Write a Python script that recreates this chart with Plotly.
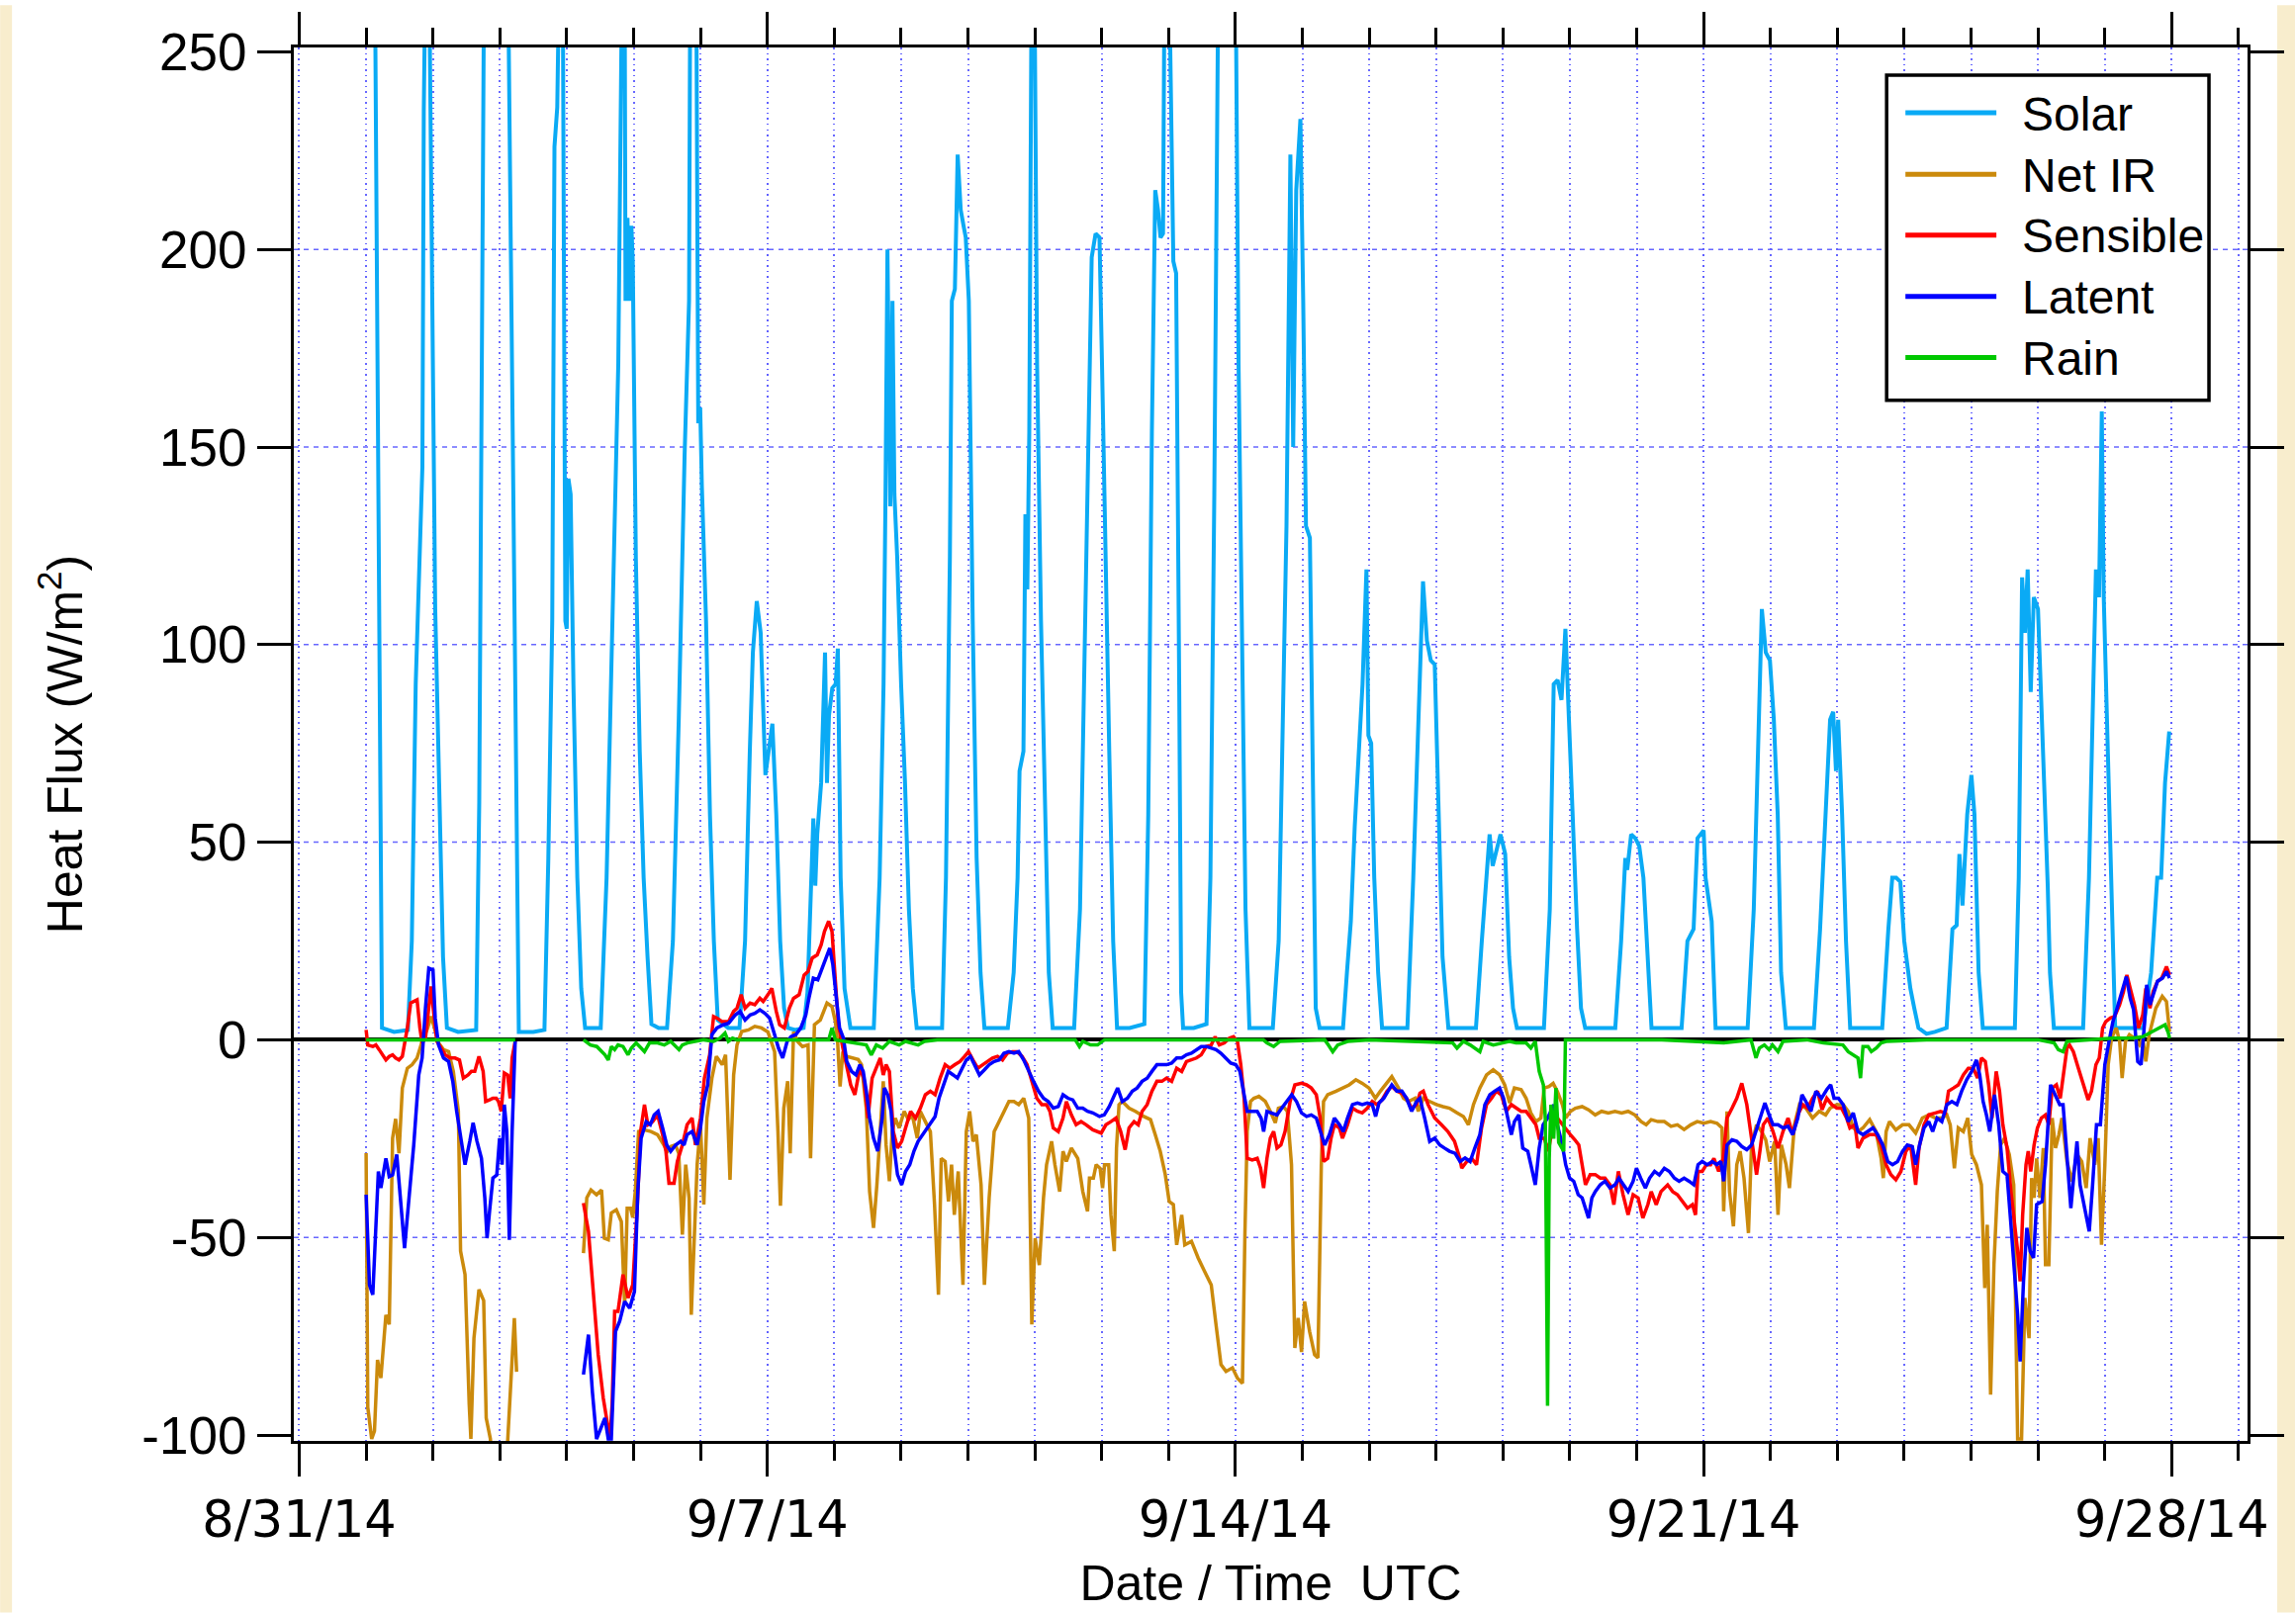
import pandas as pd
import plotly.graph_objects as go

START = pd.Timestamp("2014-09-01 00:00")

# ---------------- data (hours since 9/1/14 00:00 UTC, W/m2) ----------------
solar_hours = [0, 3.3, 5.7, 10, 15,
    16.4, 17.8, 19.2, 20.2, 20.7, 21.2, 22.7, 24.1, 24.8, 26.2, 27.6, 29, 33, 39.5,
    40.6, 41.6, 42.3, 46, 51, 54.8, 60, 64,
    65.4, 66.8, 67.6, 68.6, 69.2, 70.6, 71.5, 72.0, 72.6, 73.4, 74.4, 75.8, 77.2, 78.6, 82, 84.2,
    86.3, 88.4, 90.5, 91.8, 92.8, 93.1, 93.8, 94.5, 95.2, 95.7, 96.8, 98.2, 99.6, 101, 102.4, 105, 108,
    110.1, 112.2, 114.3, 115.9, 116.3, 118.5, 119.2, 119.9, 120.5, 122, 123.4, 124.8, 126.2, 130, 134,
    136, 137.7, 138.8, 140.2, 141.6, 143.3, 144.4, 145.8, 147.2, 148.6, 150, 151.4, 154, 157,
    158.4, 159.8, 160.5, 161.2, 161.9, 163.3, 164.7, 165.4, 166.1, 167.3, 168.5, 169.3, 170.3, 171.7, 173.8, 178, 182.2,
    184.3, 185.7, 186.4, 187.1, 188.1, 188.9, 189.6, 190.6, 192, 193.4, 194.8, 196.2, 197.6, 202, 206.7,
    208.1, 209.5, 210.2, 211.3, 212.3, 213.4, 214.4, 215.2, 216.3, 217.7, 219.1, 220.5, 221.9, 226, 230.3,
    232.4, 233.8, 234.5, 235.9, 236.6, 237.3, 238, 238.8, 239.9, 240.8, 242.2, 243.6, 245, 246.4, 250, 254.1,
    256.2, 257.6, 259, 260.4, 261.8, 263.2, 264.1, 265.3, 266.7, 268.1, 269.5, 274, 279.3,
    280.7, 282, 283.2, 284.2, 285.1, 286, 286.5, 288.3, 289.7, 290.7, 291.8, 292.5, 293.2, 297, 301.6,
    303, 304.4, 305.8, 309, 312.1, 313.1, 314.2, 315.6, 317, 321, 325.4,
    327.5, 328.9, 330.3, 331.7, 332.7, 333.8, 335.3, 336.3, 337.3, 338.7, 339.4, 340.1, 340.8, 342.2, 346, 350.6,
    352, 353.4, 354.8, 356.2, 357.6, 359, 359.7, 360.7, 361.8, 363.2, 364.6, 369, 373.7,
    375.8, 377.9, 379.3, 380.7, 382.1, 383.5, 384.9, 386.3, 388.4, 393, 398.3,
    400.4, 402.1, 403.2, 404.3, 406, 407.1, 408.8, 410.2, 411.6, 413, 418, 422.7,
    424.8, 426.2, 427.6, 429, 430.4, 432, 433.2, 434.6, 436, 437.5, 442, 448.3,
    450.4, 451.9, 452.6, 454, 455.5, 456.9, 458.4, 459.8, 461.3, 466, 472.1,
    474.2, 476.4, 477.8, 480, 480.7, 482.9, 484.3, 490, 495.8,
    498, 499.4, 500.9, 502.3, 503.8, 505.2, 506.6, 507.8, 509.5, 514, 519.6,
    521.8, 523.9, 525.4, 526.5, 527.5, 528.3, 529.7, 531.1, 532.6, 538, 544.1,
    546.3, 547.7, 549.1, 550.6, 552, 554.2, 555.6, 557.1, 560, 563, 567.2,
    569.3, 570.8, 571.8, 572.9, 574.6, 576.1, 577.2, 578.7, 580.2, 586, 591.7,
    593.1, 594.3, 595.3, 596.3, 597.4, 598.5, 600, 601, 602.5, 603.5, 604.3, 605.7, 610, 616.2,
    618.3, 619.8, 620.8, 621.9, 622.9, 623.6, 624.4, 626.2, 627.7, 632, 637.8,
    640.6, 642.8, 644.2, 645.6, 647.1]
solar_wm2 = [330, 255, 3, 2, 2.5,
    25, 90, 122, 145, 235, 265, 265, 171, 109, 65, 21, 3, 2, 2.5,
    60, 180, 265, 290, 265, 2, 2, 2.5,
    46, 106, 226, 236, 265, 265, 106, 104, 142, 138, 90, 41, 13, 3, 3, 3,
    41, 106, 171, 265, 265, 187, 208, 187, 206, 197, 122, 73, 41, 21, 4, 3, 3,
    25, 81, 148, 187, 265, 265, 156, 160, 140, 106, 57, 25, 5, 3, 3,
    25, 73, 98, 111, 103, 67, 73, 80, 57, 25, 8, 3, 2.5, 3,
    12, 41, 56, 39, 52, 65, 98, 65, 82, 89, 90, 99, 41, 13, 3, 3, 3,
    41, 90, 138, 200, 135, 187, 138, 122, 90, 65, 33, 13, 3, 3, 3,
    41, 122, 187, 190, 224, 210, 206, 203, 187, 106, 46, 17, 3, 3, 3,
    17, 41, 68, 73, 133, 114, 154, 265, 265, 171, 106, 57, 17, 3, 3, 3,
    33, 90, 154, 198, 204, 203, 171, 122, 73, 25, 3, 3, 4,
    57, 154, 215, 210, 203, 204, 265, 265, 197, 194, 90, 12, 3, 3, 4,
    41, 138, 265, 290, 265, 171, 106, 33, 3, 3, 3,
    25, 73, 130, 224, 150, 215, 233, 187, 130, 127, 90, 41, 8, 3, 3, 3,
    17, 30, 54, 73, 90, 119, 77, 75, 41, 17, 3, 3, 3,
    41, 90, 116, 101, 96, 95, 57, 21, 3, 3, 3,
    25, 43, 52, 44, 49, 52, 47, 21, 8, 3, 3, 3,
    33, 90, 91, 86, 104, 73, 49, 28, 8, 3, 3, 3,
    25, 46, 43, 52, 51, 49, 41, 21, 3, 3, 3,
    25, 28, 51, 53, 41, 30, 3, 3, 3,
    33, 73, 109, 98, 96, 81, 57, 17, 3, 3, 3,
    28, 57, 81, 83, 68, 81, 57, 25, 3, 3, 3,
    28, 41, 41, 40, 25, 13, 8, 3, 1.5, 2, 3,
    28, 29, 47, 34, 57, 67, 57, 17, 3, 3, 3,
    41, 117, 103, 119, 88, 112, 109, 90, 62, 39, 17, 3, 3, 3,
    41, 90, 119, 112, 159, 112, 90, 41, 3, 3, 3,
    17, 41, 41, 65, 78]

netir_hours = [0, 0.6, 2.0, 3.0, 4.1, 5.3, 7.1, 8.3, 9.5, 10.6, 11.8, 13, 14.8, 16.5, 18.3, 20.1, 22.1, 23.3,
    24.2, 26, 27.8, 29.6, 31.3, 33.1, 33.9, 35.5, 37, 37.6, 38.7, 40.5, 42.2, 43.1, 44.6, 46.5, 49, 50.9, 53.2, 54,
    60,
    78, 79.2, 80.7, 82.7, 84.5, 85.5, 86.9, 88, 89.8, 91.6, 92.8, 93.7, 94.9, 95.7, 96.6, 97.8, 99.9, 102.2,
    104.6, 107, 108.2, 109.4, 111, 112.2, 113.5, 114.7, 115.9, 116.7, 117.7, 118.8, 120, 121.2, 122.3, 124.1,
    125.7, 127.8, 129, 130.6, 131.9, 133.1, 134.8, 137.2, 139.5, 141.9, 144.2, 146.6, 147.8, 148.7, 149.9,
    151.3, 152.2, 153.4, 154.8, 156.6, 158.6, 159.5, 160.9, 163, 165.4, 167.2, 168.4, 169.2, 170.1, 171.1,
    172.5, 174.8, 176.6, 177.8, 179.5, 180.7, 182.1, 183.3, 184.8, 185.6, 186.6, 187.8, 188.8, 189.9, 191.3,
    193.1, 194.6, 196, 197.8, 198.9, 200.7, 202.5, 204, 205.4, 206.4, 207.8, 209, 210.1, 211.1, 212.5, 214.2,
    215.4, 216.6, 217.8, 219, 220.7, 221.9, 223.6, 225.4, 227.2, 228.9, 230.7, 232.5, 234.2, 236, 237.8,
    238.9, 240.1, 241.6, 243.1, 244.2, 246, 247.2, 248.9, 250.1, 251.3, 253.1, 255.4, 257.2, 258.9, 259.6,
    261, 262, 263.4, 264.3, 265, 266.5, 267.3, 268.5, 269.3, 270.2, 271.4, 273.8, 276.1, 279.1, 281.5, 283.2,
    285, 286.8, 288.2, 289.7, 290.9, 292.7, 293.8, 296.2, 298.6, 300.9, 303.3, 305, 306.8, 308.6, 310.9,
    312.7, 314.5, 315.4, 316.2, 317.4, 318.6, 320.4, 322.7, 324.5, 326.3, 327.4, 329.2, 330.6, 332.1, 333.3,
    334.5, 335.7, 336.8, 338.6, 340.4, 341.6, 342.8, 343.6, 345.1, 348.1, 350.4, 352.8, 355.2, 357.5, 359.9,
    362.2, 364, 365.8, 368.1, 370.5, 372.3, 374.1, 376.4, 377.6, 379.4, 381.7, 384.1, 386.5, 388.8, 391.5,
    393.8, 395.6, 397.4, 399.7, 402.1, 404.5, 406.8, 408.6, 410.4, 412.1, 414.5, 416.3, 418, 419.8, 421.6,
    422.8, 424.5, 426, 427.5, 429.3, 430.5, 432.2, 434, 436.4, 438.7, 441.1, 443.4, 445.8, 448.2, 450.6,
    452.9, 455.3, 457.6, 459.4, 461.2, 463.6, 465.9, 468.3, 470.6, 473, 475.4, 477.7, 480.1, 482.5, 484.8,
    486.6, 487.2, 488.4, 489.3, 490.7, 491.9, 493.1, 494.5, 496.1, 497.2, 499, 500.8, 502.3, 503.7, 505.5,
    506.7, 507.9, 509.6, 510.8, 512.6, 514.4, 516.7, 519.1, 521.5, 523.8, 525.4, 527.8, 530.1, 531.9, 533.7,
    535.4, 537.2, 539.6, 541.9, 543.7, 544.5, 545.5, 546.7, 549, 551.4, 553.7, 556.1, 558.5, 560.8, 563.2,
    565.5, 567.3, 568.5, 570, 571.4, 573.2, 574.8, 576.2, 577.9, 579.7, 580.9, 581.8, 583, 584.2, 585.4,
    586.6, 588, 589.7, 591.3, 592.7, 594.1, 595.3, 596.8, 597.7, 598.6, 599.5, 600.7, 601.9, 602.7, 603.9,
    605.1, 606.3, 607.5, 608.6, 610.4, 612.2, 614, 615.7, 617.3, 618.7, 620.4, 621.6, 622.8, 624, 625.2,
    626.4, 628.1, 629.3, 630.2, 631.4, 632.8, 634.6, 636.4, 637.6, 638.7, 639.9, 642.3, 644.6, 646.1, 647.2]
netir_wm2 = [-28.7, -93, -101, -99, -81, -85.6, -69.6, -72, -24.9, -20, -28.7, -12.2, -7.2, -6.3, -4.6, -0.4, 3, 5.9,
    3.8, -0.8, -2.5, -3, -8, -18, -53.5, -59.4, -92.3, -101, -75.5, -63.2, -66, -95.7, -101, -130, -125, -101, -70.4, -84,
    None,
    -54, -40, -38, -39.2, -38, -50.2, -50.6, -43.8, -43, -46, -67, -42.6, -42.6, -45, -38.4, -23.2, -22.8, -23.2,
    -24, -26.6, -28.2, -27, -26.6, -28.7, -49.3, -31.6, -40, -69.6, -50, -31.6, -21.5, -41.7, -19.8, -9.7,
    -4.2, -6.3, -3.8, -35.4, -8.9, -1.3, 2.1, 2.5, 3.4, 3, 2, -3, -23.2, -42, -17.3,
    -10.5, -28.7, 2, -0.4, -1.7, -1.3, -30, 3.8, 5, 9.3, 8.4, 4.6, -0.4, -11.8, -3,
    -4.2, -4.6, -5, -6.3, -17.3, -38.4, -47.6, -36.7, -21.5, -10.5, -26.6, -35.8, -23.2, -19.8, -22.3,
    -18.1, -20.2, -19, -24.9, -18.1, -20.7, -23.2, -41.7, -64.5, -30, -30.8, -40.9, -31.6, -44.3, -33.3, -62,
    -23.2, -18.1, -25.7, -24, -36.7, -62, -40, -23.2, -20.7, -18.1, -15.6, -15.6, -16.4, -14.8, -19.8,
    -72, -50.2, -57, -40, -31.6, -25.7, -31.6, -38.4, -28.2, -30.8, -27.4, -30, -38.4, -43.4, -35,
    -35, -31.6, -32.5, -37.5, -31.6, -31.6, -44.3, -53.5, -27.4, -16.4, -15.6, -17.3, -18.1, -19.4, -20.2, -24,
    -28.2, -34.1, -40.9, -41.7, -51.9, -44.3, -51.9, -51, -55.2, -58.6, -62, -72, -82.2, -83.9, -83,
    -85.6, -86.9, -48.5, -23.2, -15.6, -14.8, -14.3, -15.6, -18.1, -21, -17.3, -16.9, -18.1, -31.6, -78,
    -70.4, -79, -66.2, -73.8, -79.7, -80.5, -31.6, -15.6, -13.9, -13, -12.2, -11.4, -10.1, -11, -12.2,
    -14.8, -13, -11.4, -9.3, -12.2, -14.8, -15.6, -14.8, -18.1, -14.8, -15.6, -16.4, -16.9, -17.3, -18.5,
    -19.4, -21.5, -16.4, -12.2, -8.9, -7.6, -8.9, -11.4, -16, -12.2, -12.6, -14.8, -18.5, -20.7, -19.8,
    -12.2, -11.8, -11, -13, -16.4, -19.8, -18.1, -17.3, -16.9, -17.7, -19, -18.1, -18.5, -18.1, -18.5,
    -18.1, -19, -20.7, -21.5, -20.2, -20.7, -20.7, -21.9, -21.5, -22.7, -21.5, -20.7, -21.1, -20.7, -21.1,
    -22.3, -43.4, -18.1, -38.4, -47.2, -31.6, -28.2, -35, -48.9, -26.6, -21.5, -23.2, -25.3, -30.8, -25.7,
    -44.3, -26.6, -31.6, -37.5, -21.5, -16.4, -17.3, -19.8, -18.1, -19, -17.3, -16.4, -16.4, -18.1, -22.3,
    -23.2, -22.3, -20.2, -23.2, -30, -35, -23.2, -20.7, -22.8, -21.5, -21.5, -23.6, -19.8, -19, -19.8,
    -19.8, -19, -21.5, -32.5, -22.3, -23.2, -19.8, -29, -31.6, -36.7, -62.8, -46.8, -89.8, -56.9, -38.4,
    -26.6, -24.9, -29, -36.7, -101, -101, -65.3, -75.5, -35, -40, -30, -40, -27.4, -56.9, -56.9,
    -19.8, -27.4, -24, -19.8, -30.8, -35.8, -29, -30.8, -37.5, -24.9, -31.6, -24.9, -51.9, -31.6, -6.3,
    0.4, 3, -0.4, -9.7, -0.4, 1.3, 0.4, -1.3, 0.4, -5.5, 1.3, 8, 11, 9.7, 2]

sens_hours = [0, 0.6, 2.4, 3.5, 4.7, 5.9, 7.1, 8.3, 9.5, 10.6, 11.8, 13, 13.8, 14.8, 16, 17.1, 18.3, 19.3, 20.1,
    21.3, 22.5, 23.3, 24.2, 25.4, 26.6, 28.4, 30.1, 31.9, 33.5, 34.9, 36.6, 37.8, 39, 40.5, 42, 42.9, 44.3,
    45.5, 46.7, 47.5, 48.5, 49.6, 50.8, 51.7, 52.4, 53.5,
    60,
    78, 79.8, 81.6, 83.3, 85.1, 86.3, 87.5, 88.3, 89.2, 90.4, 92.2, 94, 95.7, 97.3, 98.5, 99.9, 101.1, 102.8,
    104.6, 106.4, 107.6, 108.7, 110.5, 111.7, 113.5, 115.2, 117, 118.2, 120, 121.4, 123.3, 124.7, 125.9, 127.7,
    130.1, 131.9, 133.1, 134.6, 136, 137.8, 139.5, 141.3, 142.5, 144.2, 145.6, 147.2, 148.4, 150.1, 151.9,
    153.4, 155.4, 157.2, 158.6, 160.1, 161.9, 163.3, 164.5, 166, 167.2, 168, 169.5, 171.1, 172.5, 173.9,
    175.4, 177.2, 178.6, 180.1, 181.6, 183.1, 184.5, 185.6, 186.6, 187.8, 189.2, 190.7, 192.2, 193.6, 195.4,
    197.2, 198.9, 200.7, 202.5, 204.2, 206, 207.8, 209.5, 211.3, 213.1, 214.8, 216.2, 217.8, 219.5, 221.3,
    223.1, 224.8, 226.6, 228.4, 230.1, 231.9, 233.6, 235.4, 237.2, 238.9, 240.7, 242.5, 244.2, 245.4, 246.6,
    248.4, 250.1, 251.3, 253.1, 254.8, 256.6, 258.4, 260.8, 263.8, 265.5, 267.3, 269.1, 270.8, 272.4, 273.8,
    275.6, 277.1, 278.5, 280.3, 282, 283.8, 285.6, 287.3, 289.1, 290.9, 292.7, 294.4, 296.2, 298, 299.7,
    301.5, 303.3, 304.7, 306.2, 308, 309.8, 311.3, 312.7, 313.9, 315.1, 316.2, 318, 319.8, 321, 322.1,
    323.3, 324.5, 325.7, 326.9, 328.3, 329.8, 331.6, 333.3, 335.7, 337.5, 339.2, 341, 342.4, 343.6, 345.1,
    346.3, 347.5, 349.3, 350.4, 352.2, 354, 355.8, 357.5, 359.3, 361.1, 362.8, 364.6, 366.4, 368.1, 369.9,
    371.7, 373.4, 375.2, 377, 378.2, 379.4, 381.1, 383.5, 385.9, 388.2, 390.6, 392.5, 393.2, 395, 396.8,
    398.5, 400.3, 402.1, 403.9, 405.6, 407.4, 409.2, 411, 412.7, 414.5, 416.3, 418, 419.8, 421, 422.8,
    424.3, 425.7, 427.5, 429.3, 431, 432.2, 433.8, 435.2, 436.4, 437.6, 439.3, 441.1, 442.9, 444.6, 446.4,
    447.8, 449.4, 451.1, 452.9, 454.7, 456.5, 458.2, 460, 461.2, 463, 464.7, 467.1, 468.9, 470.6, 472.4,
    474.2, 476, 477.1, 478, 479.5, 481, 482.5, 483.7, 485.4, 487, 488.4, 490.2, 491.9, 493.7, 495.5,
    497.2, 499, 500.2, 501.4, 503.1, 504.9, 506.7, 508.5, 510.3, 512, 513.8, 515.6, 517.3, 519.1, 520.9,
    522.5, 524.2, 526, 527.8, 529.5, 531.3, 532.5, 534.3, 535.4, 537.2, 539.6, 541.9, 543.7, 545.5, 547.2,
    549, 550.8, 552.6, 554.3, 556.1, 557.3, 559.1, 560.8, 563.2, 565, 566.7, 567.9, 569.7, 571.4, 573.2,
    575, 576.8, 578.3, 579.7, 581.1, 582.3, 583.5, 585, 586.2, 587.4, 588.9, 590.3, 591.5, 592.7, 593.6,
    594.5, 595.7, 596.5, 597.4, 598.6, 599.8, 601.2, 602.7, 603.9, 605.1, 606.6, 608, 609.2, 610.4, 611.3,
    612.7, 614.5, 616.3, 618, 619.2, 620.8, 622, 623.2, 624.3, 626, 627.5, 629.3, 630.7, 631.9, 633.4,
    634.6, 636.1, 637.6, 638.7, 640.2, 641.3, 642.9, 644.4, 646.1, 647.2]
sens_wm2 = [2.5, -1.3, -1.7, -1.3, -2.5, -3.8, -5.1, -4.2, -3.8, -4.6, -5.1, -4.2, -1.3, 3, 9.3, 9.7, 10.1, 3, -0.8,
    0.4, 7.2, 13.5, 7.2, -0.4, -1.7, -3.8, -4.6, -4.6, -5.1, -9.7, -8.9, -8, -8, -4.2, -8, -15.6, -15.2,
    -14.8, -14.8, -15.6, -18.1, -8.4, -8.9, -14.8, -4.6, -0.4,
    None,
    -41.3, -48.5, -64.5, -79.7, -90.6, -95.7, -101, -92.3, -68.7, -68.7, -59.4, -65.3, -62, -42.6, -23.2, -16.4, -21.5, -20.7,
    -19, -24, -28.2, -36.3, -36.3, -30.8, -26.6, -21.5, -19.8, -26.6, -19.8, -9.7, -3.8, 5.9, 5.5, 4.6,
    4.6, 7.2, 8, 11.4, 8, 9.3, 8.9, 10.5, 9.7, 11.4, 13, 7.2, 3.8, 3, 8,
    10.5, 11.4, 16.4, 17.3, 20.7, 21.5, 24, 27.4, 30, 27.4, 19, 3.8, -2.1, -6.3, -11.4,
    -13.9, -7.2, -9.7, -19.8, -9.7, -7.2, -4.6, -8.9, -6.3, -8, -23.2, -27.4, -25.7, -22.3, -18.1,
    -19.8, -17.3, -13.9, -13, -13.9, -9.7, -6.3, -7.2, -6.3, -5.5, -4.2, -3, -5.1, -7.2, -6.3,
    -5.5, -4.6, -4.2, -5.1, -3.4, -3, -3, -4.2, -6.3, -10.5, -14.8, -16.4, -16.4, -18.1, -22.3,
    -23.2, -19.8, -15.6, -19, -21.5, -20.7, -21.5, -22.8, -23.6, -21.5, -20.7, -19.8, -23.2, -27.8, -22.3,
    -20.7, -21.5, -18.1, -16.4, -13, -10.5, -10.5, -9.7, -10.5, -7.2, -8, -5.5, -5.1, -4.6, -3.8,
    -1.7, -1.3, 0.8, -1.3, -0.8, 0.4, 0.8, -0.4, -6.3, -14.8, -30, -30.4, -30, -32.5, -37.5,
    -30, -24.9, -23.2, -27.4, -26.6, -23.2, -15.6, -11.4, -11, -11.4, -12.2, -13.9, -19.8, -30.8, -30,
    -24.9, -21.5, -22.3, -24.9, -21.5, -17.3, -18.1, -18.5, -17.3, -15.6, -16.4, -15.2, -13, -11.8, -13,
    -13.5, -14.8, -17.3, -16.4, -13.5, -13, -16.4, -19.8, -21.5, -23.2, -25.7, -30, -32.5, -30.8, -30,
    -31.6, -22.3, -16.4, -14.8, -13, -13.9, -18.1, -16.4, -17.3, -18.1, -18.1, -19.8, -21.5, -24.9, -24.9,
    -28.2, -22.3, -19.8, -21.5, -23.2, -24, -25.3, -26.6, -31.6, -36.7, -34.1, -34.1, -35, -35, -36.7,
    -41.7, -33.3, -39.2, -44.3, -39.2, -40, -45.1, -41.7, -38.4, -41.7, -38.4, -36.7, -38.4, -39.2, -40.9,
    -42.6, -41.7, -44.3, -33.3, -33.3, -31.6, -31.6, -30, -33.3, -30, -19.8, -17.3, -14.8, -11, -16.4,
    -24.9, -34.1, -28.2, -21.5, -19.8, -23.2, -27.4, -23.2, -19.8, -24, -19, -16.4, -17.3, -14.8, -13,
    -17.7, -14.8, -16.4, -17.3, -17.3, -19.8, -22.3, -21.5, -27.4, -24.9, -24, -24, -26.6, -31.6, -34.1,
    -35.4, -33.3, -28.2, -26.6, -36.7, -27.4, -21.5, -19, -18.5, -18.1, -18.5, -13, -12.2, -11.4, -8.9,
    -7.2, -7.2, -9.7, -4.6, -5.5, -11.4, -19.8, -8, -13, -21.5, -27.4, -38.4, -45.1, -53.5, -61.1,
    -44.3, -31.6, -28.2, -33.3, -26.6, -22.3, -19.8, -19, -21.5, -12.2, -11.4, -14.8, -8, -2.1, -1.3,
    -3, -7.2, -11.4, -15.2, -13, -6.3, -4.6, 3, 4.6, 5.5, 5.9, 8.9, 12.2, 16.4, 12.2,
    8.9, 3, 6.3, 13, 8, 12.2, 14.8, 15.6, 18.5, 16.4]

lat_hours = [0, 1.2, 2.4, 3.5, 4.4, 5.3, 6.3, 7.1, 8.3, 9.5, 11, 12.4, 13.8, 15.4, 17.1, 18.9, 20.1, 21.3, 22.5,
    24, 24.8, 26, 27.8, 29.6, 31.1, 32.5, 33.9, 35.5, 37.2, 38.4, 39.8, 41.4, 42.6, 43.4, 44.3, 45.5, 46.9,
    47.9, 48.8, 49.6, 50.5, 51.4, 52.4, 53.5,
    60,
    78, 79.8, 81.2, 82.7, 85.7, 86.9, 88, 89.5, 91, 92.8, 94.6, 96.3, 97.5, 98.7, 100.5, 102, 103.4, 104.8,
    106.4, 107.9, 109.3, 111.1, 112.9, 114.1, 115.2, 117, 118.8, 120, 121.2, 122.6, 124.1, 125.9, 128.2, 130.1,
    132.5, 134.2, 136, 137.8, 139.5, 141.3, 143.1, 144.8, 146.6, 148, 149.5, 151.1, 152.5, 154.2, 156, 157.8,
    158.9, 160.5, 162.1, 163.6, 165.2, 166.4, 167.5, 168.7, 169.9, 171.3, 172.5, 174.2, 175.8, 177.2, 178.4,
    179.5, 180.7, 182.1, 183.6, 185.2, 186, 187.2, 188.4, 189.2, 190.7, 192.2, 193.6, 195.1, 196.6, 198.1,
    199.8, 201.3, 202.8, 204.2, 205.6, 207.2, 208.9, 210.7, 212.2, 213.9, 215.4, 216.9, 218.4, 220.1, 221.9,
    223.6, 225.4, 227.2, 228.9, 230.7, 232.5, 234.2, 236, 237.8, 239.5, 241.3, 243.1, 244.8, 246.6, 248.4,
    250.1, 251.9, 253.6, 255.4, 257.2, 258.9, 260.8, 263.2, 264.9, 266.7, 268.5, 269.7, 271.4, 273.2, 275,
    276.7, 278.5, 280.3, 282, 283.8, 285.6, 287.3, 289.1, 290.9, 292.7, 294.4, 296.2, 298, 299.7, 301.5,
    303.3, 305, 306.8, 308.6, 310.3, 312.1, 313.6, 315.1, 316.2, 318, 319.8, 321.2, 322.1, 323.3, 325.1,
    326.9, 328.6, 330.4, 332.2, 333.9, 335.7, 337.5, 339.2, 341, 342.8, 344, 345.7, 347.5, 349.3, 350.7,
    352.2, 354, 355.8, 357.5, 359.3, 361.1, 362.3, 363.5, 365.2, 366.7, 368.1, 369.9, 371.7, 373.4, 375.2,
    377, 378.2, 379.9, 381.7, 383.5, 385.3, 387, 388.8, 390.8, 392.6, 394.4, 396.2, 397.9, 399.7, 401.5,
    403.3, 405, 406.8, 408.2, 409.8, 411, 412.1, 413.7, 415.1, 416.9, 418, 419.6, 421, 422.4, 424,
    425.1, 426.3, 427.5, 429.3, 430.5, 431.9, 433.4, 435, 436.4, 437.6, 438.7, 439.9, 441.1, 442.9, 444.6,
    446.4, 448.2, 449.6, 451.1, 452.9, 454.7, 455.9, 457.4, 459.1, 460.6, 462.4, 464.1, 465.9, 467.7, 469.5,
    471.2, 473, 474.8, 476.5, 478, 479.5, 481.3, 483.1, 484.8, 486.2, 487.2, 488.4, 490.2, 491.9, 493.7,
    495.5, 497.2, 498.8, 500.2, 502, 503.5, 504.9, 506.7, 508.5, 510.3, 512, 513.8, 515.3, 516.7, 518.5,
    520.3, 522.3, 524.2, 525.6, 526.8, 528.4, 530.1, 531.9, 533.7, 535.4, 537.2, 539, 540.8, 542.5, 544.3,
    546.1, 547.8, 549.6, 551.4, 553.1, 554.9, 556.1, 557.5, 559.1, 560.8, 562.2, 563.8, 565.5, 567.3, 569.1,
    570.9, 572.6, 574.4, 576.2, 577.9, 579.1, 580.3, 581.5, 582.7, 584.4, 585.9, 587.4, 588.9, 590.3, 591.5,
    592.7, 593.6, 594.8, 596, 597.2, 598.4, 599.5, 601.5, 602.7, 604.5, 606.3, 607.8, 609, 610.4, 611.8,
    613, 614, 615.1, 616.9, 618.4, 619.6, 621, 622.4, 624, 625.5, 626.9, 628.4, 629.9, 631.7, 633.1,
    634.3, 635.8, 637, 638.2, 639, 640.2, 641.4, 642.9, 644.7, 646.1, 647.2]
lat_wm2 = [-39.2, -62, -64.5, -46, -33.3, -37.5, -33.3, -30, -34.6, -34.2, -29, -41.7, -52.7, -40, -26.6, -8.9, -4.6, 8, 18.1,
    17.7, 5.5, -1.3, -4.6, -5.5, -10.5, -18.1, -24.9, -31.6, -25.7, -21, -25.7, -30, -40, -50.2, -43.4, -35, -34.2,
    -24.9, -31.6, -16.4, -23.2, -50.6, -23.2, -0.4,
    None,
    -84.7, -74.6, -89, -101, -95.7, -101, -101, -73.8, -71.2, -66.2, -67.9, -63.7, -38.4, -24.9, -20.7, -21.5, -19, -18.1,
    -22.3, -26.6, -28.2, -26.6, -25.7, -26.6, -24, -23.2, -26.6, -22.3, -15.6, -11.4, 1.3, 3, 3.8, 4.2,
    6.3, 7.2, 5, 6.3, 6.7, 7.6, 6.7, 5.5, 1.3, -2.1, -4.6, -0.4, 0.8, 1.3, 3, 6.3,
    10.5, 15.6, 15.2, 18.1, 20.7, 23.2, 19, 10.5, 3, 0.4, -5.5, -8, -8.9, -6.3, -8,
    -13, -19.8, -24.9, -28.2, -19.8, -12.2, -13.9, -18.1, -25.7, -34.1, -36.7, -33.3, -31.6, -28.2, -25.7,
    -24, -22.3, -20.7, -19.4, -14.8, -11.4, -8, -8.9, -9.7, -7.2, -5.1, -4.2, -6.3, -8.9, -7.6,
    -6.3, -5.5, -5.1, -3.4, -3, -3.4, -3, -5.1, -8, -10.5, -13, -14.8, -15.6, -17.3, -16.9,
    -13.9, -14.8, -15.2, -17.3, -17.3, -18.1, -18.5, -19.4, -19, -16.9, -13.9, -12.2, -15.6, -14.8, -13,
    -12.2, -10.5, -9.7, -8, -6.3, -6.3, -6.3, -5.9, -4.6, -4.6, -3.8, -3.4, -2.5, -1.7, -1.7,
    -2.1, -2.5, -3.4, -4.6, -5.9, -6.3, -8, -13.9, -18.1, -18.1, -18.1, -19.8, -23.2, -18.1, -18.5,
    -19, -17.3, -15.6, -13.9, -15.6, -18.5, -19.4, -19, -19.8, -24, -26.6, -24, -19.8, -21.5, -23.2,
    -19.8, -16.4, -16, -16.4, -16, -16.4, -19.4, -16, -14.8, -13, -11.4, -13, -13, -14.8, -18.1,
    -15.6, -14.8, -19.8, -25.7, -24.9, -26.6, -27.4, -28.2, -28.7, -30.8, -29.9, -30.8, -27.4, -24, -16.4,
    -13.9, -13, -12.2, -14.8, -19.8, -24, -20.7, -19, -27.4, -28.2, -31.6, -36.7, -27.4, -21.5, -19.8,
    -18.1, -16.4, -21.5, -26.6, -31.6, -35, -35.8, -39.2, -40, -42.6, -45.1, -40, -38.4, -36.7, -35.8,
    -37.5, -36.7, -35, -36.7, -38.4, -35.8, -32.5, -35, -37.5, -35, -33.3, -34.2, -32.5, -33.3, -35,
    -35.8, -35, -35.8, -36.7, -31.6, -30.8, -31.6, -30.8, -31.6, -30.8, -35.8, -26.6, -25.3, -25.7, -27,
    -27.8, -26.6, -23.2, -19.8, -16, -19, -21.5, -21.5, -22.3, -21.9, -24, -19.8, -13.9, -15.6, -18.1,
    -13, -14.8, -12.6, -11.4, -14.8, -14.8, -16.4, -20.7, -18.5, -23.2, -24, -23.2, -22.3, -24, -26.6,
    -30.8, -31.6, -30.8, -28.2, -26.6, -27, -31.6, -26.6, -22.3, -20.7, -23.2, -19.8, -20.7, -16.4, -15.6,
    -16.4, -13, -10.1, -8, -5.1, -8.9, -15.6, -19, -23.2, -13.9, -21.5, -33.3, -34.2, -46.8, -56.9,
    -69.6, -81.4, -61.1, -47.6, -53.5, -55.2, -41.7, -40.9, -31.6, -11.4, -13.9, -16.4, -16.4, -30, -42.6,
    -33.3, -25.7, -36.7, -42.6, -48.5, -36.7, -21.5, -21.5, -6.3, -0.4, 4.6, 8, 11.4, 16, 10.5,
    7.6, -5.5, -6.3, 3.8, 13.9, 8.9, 11.4, 14.8, 15.6, 17.3, 15.6]

rain_hours = [0, 20, 40, 53.5, 60, 78, 80.5, 82.8, 85.7, 86.9, 88, 89.2, 90.4, 92.2, 94, 95.2, 96.9, 98.7, 99.9,
    101.7, 104.6, 107, 109.3, 112.3, 113.5, 115.3, 118.8, 121.2, 124.7, 127, 128.8, 130, 131.5, 133, 140, 150,
    160, 166, 167.2, 168.4, 179.5, 181.3, 183.1, 185.4, 187.8, 191.3, 193.6, 198.1, 200.4, 205, 230, 254.5,
    256, 257.2, 260, 262.5, 265, 290, 322, 323.3, 325.7, 328, 344, 345.3, 346.9, 348.7, 352.2, 360, 390,
    391.5, 393.8, 396.2, 399.7, 400.9, 404.5, 410.4, 412.7, 416.3, 418, 419.6, 421, 422.5, 423.2, 424, 424.6,
    425.2, 426.2, 427, 428, 429.8, 430.4, 445, 465, 487.2, 497, 498.8, 500, 501.8, 503.5, 504.7, 506.7,
    508.5, 517, 523, 528, 530, 531.9, 533.7, 535.4, 536.3, 537.2, 539, 540.2, 542, 543.7, 545.5, 560, 600,
    605.8, 607.3, 609, 610.4, 620, 626.9, 634, 637.6, 641.1, 643.4, 645.6, 646.8, 647.2]
rain_wm2 = [0, 0, 0, 0, None, 0, -1.3, -1.7, -3.8, -5.1, -1.7, -2.5, -1.3, -1.7, -3.8, -2.1, -0.8, -2.1, -3,
    -0.8, -0.8, -1.3, -0.4, -2.5, -1.3, -0.8, -0.4, 0, -0.4, 0.4, 1.7, -0.4, 0.4, 0, 0, 0,
    0, 0, 3, 0, -1.3, -3.8, -1.3, -2.1, -0.4, -1.3, -0.4, -1.3, -0.4, 0, 0, 0,
    -1.7, -0.4, -1.3, -1.3, 0, 0, 0, -0.8, -1.7, -0.4, 0, -1.3, -3, -1.3, -0.4, 0, -0.8,
    -2.1, -0.4, -1.3, -3, -0.4, -1.3, -0.4, -0.8, -0.8, -2.1, -0.4, -8, -11.4, -20, -92.6, -30,
    -16.4, -25, -12.2, -26, -28.2, 0, 0, 0, -0.8, 0, -4.6, -2.1, -1.3, -2.5, -1.3, -3,
    -0.4, 0, -0.8, -1.3, -1.3, -3, -3.8, -4.6, -9.7, -1.7, -1.7, -3, -2.1, -0.8, -0.4, 0, 0,
    -0.8, -2.5, -3, -0.4, 0, 0.4, 0.4, 0.8, 2.1, 2.9, 3.8, 1.7, 0.4]

# axis ticks
x_tick_dates = ["2014-08-31", "2014-09-07", "2014-09-14", "2014-09-21", "2014-09-28"]
x_tick_labels = ["8/31/14", "9/7/14", "9/14/14", "9/21/14", "9/28/14"]
y_ticks = [-100, -50, 0, 50, 100, 150, 200, 250]

series_names = ["Solar", "Net IR", "Sensible", "Latent", "Rain"]
series_colors = ["#0AAAF5", "#CB8A0C", "#FF0000", "#0000FF", "#00C800"]
series_widths = [4, 3.5, 3.5, 3.5, 3.5]
series_hours = [solar_hours, netir_hours, sens_hours, lat_hours, rain_hours]
series_values = [solar_wm2, netir_wm2, sens_wm2, lat_wm2, rain_wm2]

# ---------------- layout geometry (pixels) ----------------
W, H = 2321, 1631
PL, PR, PT, PB = 297, 2273, 43, 1457


def to_time(hours):
    return [START + pd.Timedelta(hours=h) for h in hours]


def px(xp):
    return (xp - PL) / (PR - PL)


def py(yp):
    return (PB - yp) / (PB - PT)


FONT = "Liberation Sans, Arial, Helvetica, sans-serif"
XFONT = "DejaVu Sans, Verdana, sans-serif"
GRID = "rgba(95,95,255,0.95)"

fig = go.Figure()
for name, color, lw, hrs, vals in zip(series_names, series_colors, series_widths, series_hours, series_values):
    fig.add_trace(go.Scatter(x=to_time(hrs), y=vals, mode="lines", name=name,
                             line=dict(color=color, width=lw), connectgaps=False,
                             showlegend=False))

shapes = []
# cream page edges
shapes.append(dict(type="rect", xref="paper", yref="paper", x0=px(0), x1=px(12), y0=py(H), y1=py(0),
                   fillcolor="#F8EDCD", line=dict(width=0), layer="below"))
shapes.append(dict(type="rect", xref="paper", yref="paper", x0=px(2303), x1=px(W), y0=py(H), y1=py(0),
                   fillcolor="#F8EDCD", line=dict(width=0), layer="below"))
# horizontal dashed grid lines
for v in y_ticks:
    if -100 < v < 250 and v != 0:
        shapes.append(dict(type="line", xref="paper", yref="y", x0=0, x1=1, y0=v, y1=v,
                           line=dict(color=GRID, width=1.5, dash="5px,5px"), layer="below"))

# manual legend
LX0, LX1, LY0, LY1 = 1908, 2234, 71, 401
row_y = [109.3, 171.7, 233.3, 295.7, 357.7]
shapes.append(dict(type="rect", xref="paper", yref="paper", x0=px(LX0), x1=px(LX1), y0=py(LY1), y1=py(LY0),
                   fillcolor="white", line=dict(color="black", width=3.5), layer="above"))
annotations = []
for name, color, ry in zip(series_names, series_colors, row_y):
    shapes.append(dict(type="line", xref="paper", yref="paper", x0=px(1927), x1=px(2019), y0=py(ry), y1=py(ry),
                       line=dict(color=color, width=5), layer="above"))
    annotations.append(dict(xref="paper", yref="paper", x=px(2043), y=py(ry + 1), text=name, showarrow=False,
                            xanchor="left", yanchor="middle", font=dict(family=FONT, size=48, color="black")))

fig.update_layout(
    width=W, height=H,
    margin=dict(l=PL, r=W - PR, t=PT, b=H - PB, pad=0),
    paper_bgcolor="white", plot_bgcolor="white",
    font=dict(family=FONT, color="black"),
    showlegend=False,
    shapes=shapes, annotations=annotations,
)

fig.update_xaxes(
    type="date",
    range=["2014-08-30 22:03", "2014-09-29 03:12"],
    tickvals=[pd.Timestamp(d) for d in x_tick_dates], ticktext=x_tick_labels,
    ticks="outside", ticklen=33, tickwidth=3, tickcolor="black",
    tickfont=dict(family=XFONT, size=51, color="black"),
    showline=True, linewidth=3, linecolor="black", mirror="ticks",
    showgrid=True, gridcolor=GRID, gridwidth=1.5, griddash="1.5px,4px",
    minor=dict(dtick=86400000, tick0="2014-08-31", ticks="outside", ticklen=17, tickwidth=3,
               tickcolor="black", showgrid=True, gridcolor=GRID, gridwidth=1.5, griddash="1.5px,4px"),
    zeroline=False,
    title=dict(text="Date / Time \u00a0UTC", font=dict(family=FONT, size=50, color="black"), standoff=18),
)
fig.update_yaxes(
    range=[-101.5, 251.1],
    tickvals=y_ticks, ticktext=[str(v) for v in y_ticks],
    ticks="outside", ticklen=34, tickwidth=3, tickcolor="black",
    tickfont=dict(family=FONT, size=53, color="black"),
    showline=True, linewidth=3, linecolor="black", mirror="ticks",
    showgrid=False,
    zeroline=True, zerolinecolor="black", zerolinewidth=3.5,
    title=dict(text="Heat Flux (W/m<sup>2</sup>)", font=dict(family=FONT, size=50, color="black"), standoff=44),
)

fig.write_html("out.html")
